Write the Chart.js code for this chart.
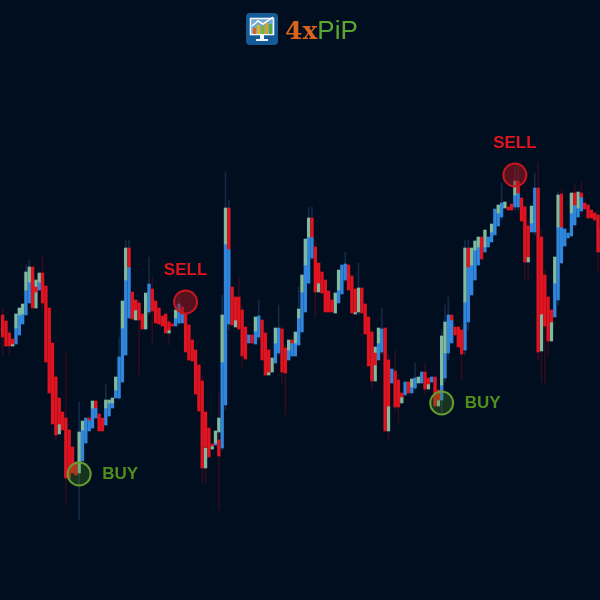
<!DOCTYPE html>
<html>
<head>
<meta charset="utf-8">
<title>4xPiP signals</title>
<script src="https://cdn.jsdelivr.net/npm/chart.js@4"></script>
<style>
html, body { margin: 0; padding: 0; width: 600px; height: 600px; overflow: hidden; background: #010e1f; }
#wrap { position: absolute; left: 0; top: 0; width: 603px; height: 600px; filter: blur(0.45px); }
#logo { position: absolute; left: 246px; top: 13px; height: 33px; width: 120px; }
#logo svg { position: absolute; left: 0; top: 0; }
#logoText { position: absolute; left: 39px; top: 1px; line-height: 32px; white-space: nowrap; }
#logoText .fx { font-family: "DejaVu Serif", serif; font-weight: bold; color: #d9651c; font-size: 25px; }
#logoText .pip { font-family: "Liberation Sans", sans-serif; color: #5aa832; font-size: 26px; }
</style>
</head>
<body>
<div id="wrap"><canvas id="candles"></canvas></div>
<div id="logo">
  <svg width="33" height="33" viewBox="0 0 33 33">
    <rect width="32" height="32" rx="4" fill="#135a96"/>
    <rect x="4.5" y="5.5" width="23" height="16" fill="#6fa8d0" stroke="#eef4f8" stroke-width="1.6"/>
    <rect x="7" y="15" width="3" height="6" fill="#d9651c"/>
    <rect x="11" y="12" width="3" height="9" fill="#e3b21e"/>
    <rect x="15" y="13" width="3" height="8" fill="#7fb32e"/>
    <rect x="19" y="10" width="3" height="11" fill="#d9a01c"/>
    <rect x="23" y="11" width="3" height="10" fill="#5aa832"/>
    <polyline points="6,13 12,8 17,11 27,4" fill="none" stroke="#ffffff" stroke-width="1.5"/>
    <rect x="14" y="22" width="4" height="4" fill="#eef4f8"/>
    <rect x="10" y="26" width="12" height="2" fill="#eef4f8"/>
  </svg>
  <div id="logoText"><span class="fx">4x</span><span class="pip">PiP</span></div>
</div>
<script>
const n = null;

// candle segments, each one [low, high] in price, one slot per candle
const redBars = [
  [263,285],[254,279],[254,267],[256,261],n,n,n,n,n,[292,333],
  [308,313],n,[297,327],[238,314],[207,292],[176,257],[165,223],[176,202],[170,188],[122,182],
  [122,170],[127,153],[125,138],n,n,n,[180,182],n,[192,199],[169,186],
  [169,182],n,n,n,n,n,n,n,[333,352],[281,308],
  [290,300],[280,297],[271,286],n,n,[289,311],[277,299],[276,292],[274,284],[267,286],
  [270,278],[274,276],n,n,[286,293],[248,286],[240,275],[239,260],[206,250],[189,235],
  [132,219],[153,188],[143,172],[154,156],n,[144,160],n,n,[351,392],[275,313],
  [280,303],[271,303],[244,290],[241,273],n,[257,265],n,n,[240,280],[225,267],
  [228,250],n,n,n,[228,271],[227,252],n,[257,260],n,n,
  n,n,n,[363,382],[308,353],[317,337],[307,328],[288,320],[288,309],[288,300],
  n,n,n,n,[310,335],[287,324],[288,311],n,[287,312],[266,296],
  [234,283],[219,268],[235,247],n,n,[169,272],[194,240],n,[193,229],[193,220],
  [203,207],n,[207,218],n,n,n,n,[211,228],[216,222],n,
  [194,223],[200,210],n,n,n,[280,285],[265,273],[253,273],[246,270],n,
  [333,352],n,n,n,[341,363],n,n,n,n,n,
  n,n,[390,393],[390,396],n,[407,419],[379,402],[338,393],[343,374],n,
  n,[248,412],[286,363],[274,325],[259,303],[278,290],n,n,[373,406],n,
  n,n,[395,407],n,[403,407],[391,397],[382,395],[382,390],[380,387],[348,385],
  n
];
const blueBars = [
  n,n,n,n,[256,272],[265,285],[276,286],[285,310],[297,318],n,
  n,[310,318],n,n,n,n,n,n,n,n,
  n,n,n,n,[139,170],[157,182],[169,180],[172,192],[182,192],n,
  n,[175,192],[184,197],[192,197],[202,210],[202,243],[218,272],[245,320],[282,333],n,
  n,n,n,n,[288,316],n,n,n,n,n,
  n,n,[274,282],[277,296],[277,286],n,n,n,n,n,
  n,n,n,n,[155,157],n,[152,238],[195,356],[276,351],n,
  n,n,n,n,[257,265],n,[256,269],[263,284],n,n,
  n,n,[237,257],[247,272],n,n,[240,250],[244,257],[244,257],[255,282],
  [268,308],[288,335],[317,363],[342,363],n,n,n,n,n,n,
  n,[297,310],[306,335],[320,336],n,n,n,n,n,n,
  n,n,n,[240,257],[248,271],n,n,[217,231],n,n,
  n,[205,218],n,[207,213],[212,222],n,[217,228],n,n,[218,223],
  n,n,[200,215],[222,247],[247,285],[257,280],n,n,n,[250,298],
  [278,333],[305,335],[320,350],[335,353],n,[348,353],[353,363],[358,368],[365,391],[374,387],
  [383,397],n,n,n,[393,405],[393,407],n,n,n,[368,377],
  [368,412],n,n,n,n,n,[283,317],[300,373],[337,373],[354,371],
  [362,367],[364,387],[375,395],[383,392],[389,403],n,n,n,n,n,
  n
];
const paleBars = [
  n,n,n,[254,256],[272,286],[285,292],[286,296],[310,328],[318,333],n,
  [292,320],[318,327],n,n,n,n,n,[166,176],n,n,
  n,n,n,[127,168],[170,179],n,n,[192,199],n,n,
  n,[192,200],[197,200],[197,202],[210,223],n,[272,299],[320,352],n,n,
  [280,290],n,n,[271,307],n,n,n,n,n,n,
  [267,270],n,[282,290],n,n,n,n,n,n,n,
  n,[132,152],n,[151,154],[157,169],[168,182],[238,285],[356,392],n,n,
  [273,280],n,n,n,n,n,[269,283],n,n,n,
  [225,228],[228,242],[257,272],n,n,n,[250,260],n,[257,268],[282,291],
  [308,325],[335,361],[363,382],n,n,[308,317],n,n,n,n,
  [287,307],[310,330],n,n,n,n,[286,288],[288,312],n,n,
  n,n,[219,253],[257,272],n,n,[169,194],n,n,n,
  [197,203],n,n,[213,221],n,[217,223],n,n,[211,216],n,
  n,[194,200],[215,264],[247,278],n,n,n,n,n,[298,352],
  n,[335,352],[350,359],[353,363],n,[353,370],n,[368,376],n,[387,395],
  n,[392,398],n,n,[405,419],n,n,n,[338,343],[377,394],
  n,n,[249,286],n,n,[259,278],[317,343],[373,405],n,n,
  n,[387,407],n,[392,408],n,n,n,n,n,n,
  [348,370]
];

// the faint long shadows that can be made out
const redWickCandles = [0,2,12,16,19,41,45,50,60,61,65,71,72,84,85,94,111,116,118,119,127,138,157,158,161,162,163,164,168,172,174,179];
const redWickRanges = [[245,292],[245,270],[290,344],[160,225],[97,247],[225,300],[257,323],[255,280],[117,225],[117,190],[90,207],[270,323],[233,295],[217,275],[185,255],[283,360],[210,270],[160,245],[190,250],[177,225],[205,237],[220,275],[320,395],[320,380],[240,438],[218,370],[217,330],[243,305],[335,410],[372,415],[386,418],[328,390]];
const blueWickCandles = [7,8,23,31,35,37,38,44,53,66,67,68,77,83,89,92,93,103,107,114,124,132,133,134,139,140,150,154,155,160,167];
const blueWickRanges = [[285,335],[297,340],[80,198],[175,216],[200,263],[245,360],[282,360],[285,343],[275,303],[150,305],[190,428],[270,400],[260,300],[245,295],[255,313],[315,393],[340,393],[318,348],[285,337],[246,292],[210,237],[187,270],[218,295],[240,303],[245,360],[270,360],[380,417],[390,433],[390,437],[365,427],[295,408]];

// signals
const buyCandles = [23, 132];
const buyPrices = [126, 197];
const sellCandles = [55, 154];
const sellPrices = [298, 425];

const labels = redBars.map((_, i) => String(i));

const wickData = (candles, ranges) => candles.map((c, k) => ({ x: labels[c], y: ranges[k] }));
const signalData = (candles, prices) => candles.map((c, k) => ({ x: labels[c], y: prices[k] }));

const bars = (data, color, order, width) => ({
    type: 'bar', data: data, backgroundColor: color, order: order,
    barThickness: width, grouped: false
});

const signalPoints = (data, fill, stroke) => ({
    type: 'line', data: data, showLine: false, order: 0,
    pointRadius: 11.5, pointHoverRadius: 11.5,
    pointBackgroundColor: fill, pointBorderColor: stroke, pointBorderWidth: 2
});

// BUY and SELL words next to the circles
const signalText = {
    id: 'signalText',
    afterDatasetsDraw(chart) {
        const { ctx, scales } = chart;
        ctx.save();
        ctx.font = 'bold 17px "Liberation Sans", Arial, sans-serif';
        ctx.textBaseline = 'middle';
        ctx.fillStyle = '#4f8f1e';
        ctx.textAlign = 'left';
        buyCandles.forEach((c, k) => {
            ctx.fillText('BUY', scales.x.getPixelForValue(c) + 23, scales.y.getPixelForValue(buyPrices[k]));
        });
        ctx.fillStyle = '#e0141f';
        ctx.textAlign = 'center';
        sellCandles.forEach((c, k) => {
            ctx.fillText('SELL', scales.x.getPixelForValue(c), scales.y.getPixelForValue(sellPrices[k]) - 32);
        });
        ctx.restore();
    }
};

new Chart(document.getElementById('candles'), {
    data: {
        labels: labels,
        datasets: [
            signalPoints(signalData(buyCandles, buyPrices), 'rgba(78,140,30,0.3)', '#649f30'),
            signalPoints(signalData(sellCandles, sellPrices), 'rgba(160,20,30,0.55)', '#c8161f'),
            bars(redBars, '#e01420', 1, 2.7),
            bars(paleBars, '#7fb9a0', 2, 2.7),
            bars(blueBars, '#2f86dc', 3, 2.7),
            bars(wickData(redWickCandles, redWickRanges), '#2e0d1f', 4, 1),
            bars(wickData(blueWickCandles, blueWickRanges), '#122a47', 4, 1)
        ]
    },
    options: {
        responsive: true,
        maintainAspectRatio: false,
        animation: false,
        layout: { autoPadding: false, padding: { left: 1 } },
        plugins: { legend: { display: false }, tooltip: { enabled: false } },
        scales: {
            x: { display: false },
            y: { display: false, min: 0, max: 600 }
        }
    },
    plugins: [signalText]
});
</script>
</body>
</html>
